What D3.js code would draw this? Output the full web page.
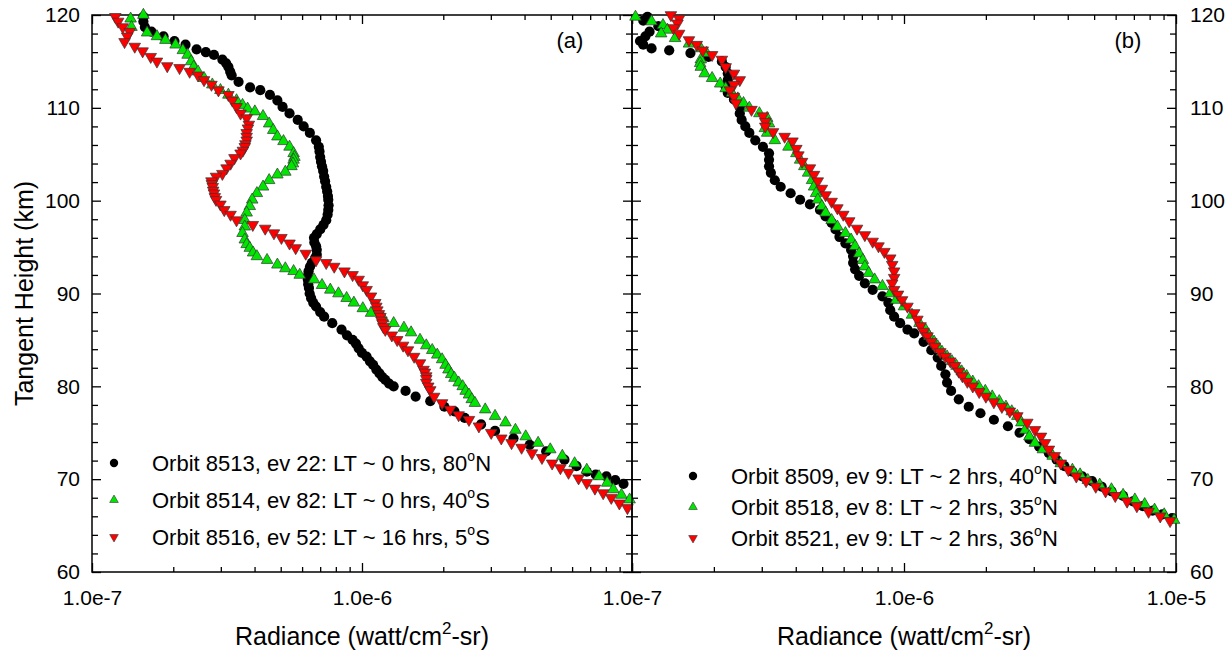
<!DOCTYPE html>
<html>
<head>
<meta charset="utf-8">
<script src="https://cdn.jsdelivr.net/npm/d3@7"></script>
<style>
  body { margin: 0; background: #fff; }
  text { font-family: "Liberation Sans", Arial, sans-serif; }
</style>
</head>
<body>
<svg id="chart" width="1230" height="653"></svg>
<script>
// [tangent height km, radiance in 1e-7 watt/cm2-sr]
const orbit8513 = [[119.8,1.55],[119.3,1.55],[118.7,1.57],[118.2,1.66],[117.7,1.84],[117.2,2.02],[116.8,2.22],[116.3,2.44],[116.0,2.64],[115.7,2.83],[115.2,3.04],[114.8,3.14],[114.4,3.20],[113.9,3.25],[113.5,3.29],[112.8,3.49],[112.2,3.85],[111.9,4.20],[111.4,4.56],[110.8,4.86],[110.1,5.08],[109.4,5.39],[108.7,5.78],[108.0,6.08],[107.3,6.41],[106.5,6.76],[105.8,6.92],[105.3,6.96],[104.7,7.00],[104.2,7.05],[103.7,7.11],[103.2,7.18],[102.6,7.24],[102.1,7.30],[101.5,7.37],[101.0,7.43],[100.5,7.48],[100.1,7.50],[99.5,7.52],[99.0,7.50],[98.5,7.46],[97.9,7.37],[97.4,7.20],[96.9,7.00],[96.4,6.80],[96.0,6.64],[95.5,6.66],[95.1,6.76],[94.7,6.80],[94.2,6.80],[93.8,6.70],[93.3,6.52],[92.9,6.42],[92.4,6.34],[91.9,6.30],[91.5,6.30],[91.0,6.32],[90.6,6.36],[90.0,6.40],[89.5,6.48],[89.0,6.60],[88.6,6.76],[88.0,7.00],[87.5,7.24],[86.8,7.76],[86.1,8.40],[85.5,8.80],[85.0,9.23],[84.6,9.50],[84.1,9.72],[83.6,10.0],[83.2,10.4],[82.7,10.7],[82.3,11.0],[81.8,11.3],[81.4,11.6],[81.0,11.9],[80.7,12.2],[80.3,12.6],[80.0,13.1],[79.5,14.5],[78.9,15.8],[78.4,17.9],[77.8,20.2],[77.3,22.0],[76.6,24.0],[75.9,27.6],[75.2,31.1],[74.4,36.4],[73.7,41.8],[73.0,48.1],[72.1,56.2],[71.4,62.3],[70.8,68.0],[70.5,73.4],[70.3,80.4],[69.9,86.7],[69.5,93.0]];
const orbit8514 = [[120.0,1.55],[119.6,1.39],[118.7,1.40],[118.1,1.60],[117.7,1.74],[117.3,1.87],[116.8,2.04],[116.2,2.17],[115.7,2.26],[115.0,2.33],[114.4,2.38],[113.9,2.47],[113.2,2.60],[112.5,2.79],[111.9,2.99],[111.4,3.20],[110.8,3.43],[110.3,3.61],[109.9,3.77],[109.6,4.01],[109.1,4.30],[108.3,4.53],[107.6,4.69],[106.9,4.86],[106.4,5.12],[105.8,5.39],[105.1,5.58],[104.7,5.62],[104.4,5.58],[104.0,5.55],[103.7,5.48],[103.1,5.20],[102.8,4.86],[102.2,4.53],[101.5,4.30],[100.8,4.08],[100.1,3.92],[99.4,3.84],[98.7,3.74],[97.9,3.68],[97.2,3.68],[96.5,3.61],[95.8,3.68],[95.3,3.74],[94.9,3.84],[94.4,3.95],[94.0,4.08],[93.6,4.45],[93.1,4.86],[92.7,5.20],[92.4,5.58],[92.0,5.88],[91.5,6.64],[90.9,7.11],[90.4,7.63],[90.0,8.18],[89.5,8.77],[89.0,9.33],[88.4,10.07],[87.9,10.8],[87.3,12.0],[86.8,13.1],[86.3,14.3],[85.8,15.2],[85.0,16.4],[84.4,17.3],[83.9,18.2],[83.4,19.0],[82.9,19.8],[82.3,20.4],[81.8,20.9],[81.3,21.4],[80.9,22.0],[80.4,22.8],[80.0,23.6],[79.5,24.2],[79.1,24.9],[78.6,25.5],[78.2,26.2],[77.5,28.6],[76.8,31.1],[76.1,34.0],[75.3,37.0],[74.6,40.4],[73.9,44.9],[73.2,49.8],[72.5,55.2],[71.7,61.3],[71.0,68.0],[70.3,75.5],[69.6,80.9],[68.9,85.3],[68.3,91.4],[67.8,98.0]];
const orbit8516 = [[119.8,1.22],[119.3,1.25],[118.7,1.30],[118.2,1.38],[117.7,1.35],[117.1,1.32],[116.6,1.44],[116.1,1.54],[115.5,1.65],[115.0,1.74],[114.5,1.90],[114.3,2.11],[113.9,2.30],[113.5,2.47],[113.0,2.60],[112.5,2.77],[111.9,2.94],[111.4,3.20],[110.8,3.31],[110.1,3.43],[109.4,3.55],[108.9,3.74],[108.2,3.81],[107.8,3.78],[107.3,3.74],[106.9,3.74],[106.5,3.74],[106.1,3.70],[105.8,3.68],[105.4,3.62],[105.1,3.55],[104.6,3.37],[104.0,3.26],[103.5,3.15],[102.9,3.04],[102.6,2.88],[102.1,2.77],[101.8,2.78],[101.5,2.80],[101.1,2.81],[100.8,2.83],[100.4,2.85],[100.1,2.88],[99.6,2.99],[99.0,3.09],[98.5,3.26],[97.9,3.43],[97.4,3.94],[97.0,4.38],[96.5,4.72],[96.0,5.03],[95.4,5.39],[94.9,5.68],[94.3,6.19],[93.6,6.76],[93.3,7.37],[92.9,7.89],[92.4,8.61],[92.0,9.23],[91.5,9.72],[90.9,10.07],[90.4,10.4],[89.7,10.8],[89.0,11.2],[88.6,11.3],[88.2,11.4],[87.8,11.55],[87.5,11.7],[87.1,11.8],[86.8,11.9],[86.4,12.0],[86.1,12.2],[85.5,12.9],[85.0,13.5],[84.4,14.2],[83.9,14.8],[83.2,15.6],[82.5,16.4],[81.8,16.9],[81.5,17.1],[81.1,17.3],[80.8,17.3],[80.4,17.3],[80.0,17.6],[79.6,17.9],[78.9,18.5],[78.2,19.8],[77.5,21.2],[76.9,22.8],[76.4,24.9],[75.7,27.1],[75.0,30.1],[74.4,32.8],[73.9,35.8],[73.4,39.0],[72.8,42.6],[72.3,46.4],[71.7,50.6],[71.2,54.3],[70.7,58.2],[70.1,63.4],[69.6,68.0],[69.0,72.9],[68.5,78.2],[68.0,83.8],[67.4,89.8],[66.9,96.2]];

const orbit8509 = [[119.8,1.14],[119.4,1.10],[118.8,1.25],[118.2,1.16],[117.7,1.12],[117.2,1.07],[116.8,1.10],[116.4,1.18],[116.2,1.37],[115.9,1.64],[115.5,1.91],[115.0,2.14],[114.4,2.21],[113.7,2.25],[113.0,2.25],[112.3,2.21],[111.6,2.25],[110.9,2.37],[110.1,2.49],[109.4,2.49],[108.7,2.53],[108.0,2.61],[107.3,2.70],[106.5,2.84],[105.8,3.03],[105.1,3.19],[104.4,3.19],[103.7,3.19],[103.0,3.24],[102.2,3.35],[101.5,3.52],[100.8,3.83],[100.1,4.15],[99.6,4.51],[99.0,4.91],[98.3,5.15],[97.6,5.42],[96.9,5.60],[96.1,5.79],[95.4,6.09],[94.7,6.39],[94.0,6.50],[93.3,6.50],[92.6,6.61],[91.9,6.84],[91.1,7.18],[90.4,7.67],[89.7,8.33],[89.0,8.76],[88.2,8.90],[87.5,9.20],[86.8,9.68],[86.1,10.3],[85.7,10.9],[84.8,11.8],[83.9,12.6],[83.1,13.3],[82.2,13.7],[81.3,14.2],[80.4,14.4],[79.5,14.9],[78.6,15.9],[77.8,17.3],[77.1,19.1],[76.4,21.4],[75.7,24.1],[75.0,26.6],[74.3,28.9],[73.5,31.4],[72.8,34.1],[72.1,36.4],[71.4,38.9],[70.8,41.6],[70.3,45.2],[69.8,49.1],[69.2,53.3],[68.7,57.9],[68.2,63.9],[67.6,69.5],[67.1,75.5],[66.6,82.0],[66.2,89.1],[65.8,96.8]];
const orbit8518 = [[119.8,1.03],[119.3,1.18],[118.9,1.30],[118.4,1.35],[118.0,1.28],[117.5,1.44],[116.9,1.62],[116.4,1.79],[115.9,1.88],[115.2,1.79],[114.8,1.78],[114.4,1.79],[113.7,1.85],[113.2,1.97],[112.6,2.11],[112.1,2.21],[111.6,2.33],[111.0,2.45],[110.5,2.57],[110.0,2.70],[109.4,2.94],[108.9,3.14],[108.3,3.19],[107.8,3.08],[107.3,3.14],[106.5,3.35],[105.8,3.76],[105.1,4.02],[104.4,4.15],[103.7,4.30],[103.0,4.44],[102.2,4.59],[101.5,4.67],[100.8,4.75],[100.1,4.82],[99.4,4.99],[98.7,5.15],[97.9,5.42],[97.2,5.69],[96.5,6.09],[95.8,6.39],[95.1,6.61],[94.3,6.84],[93.6,7.06],[92.9,7.18],[92.2,7.42],[91.5,7.80],[90.8,8.33],[90.0,8.90],[89.3,9.36],[88.6,10.0],[87.7,10.7],[86.8,11.4],[86.1,12.0],[85.4,12.4],[84.8,12.9],[84.3,13.3],[83.7,13.8],[83.2,14.4],[82.7,15.0],[82.2,15.6],[81.6,16.3],[81.1,17.0],[80.5,17.9],[80.0,18.8],[79.5,19.9],[78.9,21.1],[78.4,22.4],[77.8,23.7],[77.3,24.9],[76.8,26.1],[76.1,27.0],[75.3,27.9],[74.6,28.9],[73.9,30.3],[73.2,32.4],[72.5,35.2],[71.7,37.7],[71.0,41.6],[70.5,44.4],[69.9,47.4],[69.4,52.4],[68.9,57.9],[68.3,63.9],[67.8,70.6],[67.3,76.7],[66.7,83.4],[66.2,90.5],[65.6,98.4]];
const orbit8521 = [[120.0,1.39],[119.6,1.49],[119.1,1.47],[118.6,1.42],[118.0,1.49],[117.3,1.62],[116.8,1.73],[116.2,1.82],[115.7,1.97],[115.2,2.14],[114.4,2.21],[113.7,2.37],[113.0,2.49],[112.5,2.37],[111.9,2.29],[111.2,2.37],[110.5,2.41],[109.8,2.75],[109.1,3.03],[108.5,3.09],[108.0,3.09],[107.4,3.30],[106.9,3.64],[106.4,3.89],[105.6,4.02],[104.9,4.09],[104.2,4.22],[103.5,4.51],[102.8,4.67],[102.1,4.82],[101.3,4.99],[100.6,5.15],[99.9,5.42],[99.2,5.69],[98.5,5.98],[97.8,6.29],[97.0,6.72],[96.3,7.18],[95.6,7.67],[95.1,8.06],[94.5,8.47],[93.8,8.90],[93.1,9.05],[92.4,9.20],[91.7,9.20],[91.1,9.05],[90.4,9.20],[89.9,9.51],[89.3,9.84],[88.6,10.3],[87.9,10.9],[87.2,11.2],[86.5,11.5],[85.9,11.8],[85.4,12.2],[84.8,12.6],[84.3,13.0],[83.7,13.6],[83.2,14.2],[82.7,14.8],[82.2,15.4],[81.6,15.9],[81.1,16.4],[80.5,17.1],[80.0,17.9],[79.4,18.9],[78.9,20.0],[78.3,21.4],[77.8,22.9],[77.3,24.5],[76.8,26.1],[76.1,28.4],[75.3,30.3],[74.6,31.9],[73.9,33.0],[73.2,34.1],[72.5,35.8],[71.7,37.7],[71.0,40.2],[70.3,43.0],[69.8,46.7],[69.2,50.7],[68.7,55.1],[68.2,59.8],[67.6,66.1],[67.1,71.8],[66.5,79.3],[66.0,87.5],[65.5,95.1]];

const heightTicks = [60, 70, 80, 90, 100, 110, 120];
const radianceDecades = [1e-7, 1e-6, 1e-5];
const legendTextA = ["Orbit 8513, ev 22: LT ~ 0 hrs, 80", "Orbit 8514, ev 82: LT ~ 0 hrs, 40", "Orbit 8516, ev 52: LT ~ 16 hrs, 5"];
const legendHemiA = ["N", "S", "S"];
const legendTextB = ["Orbit 8509, ev 9: LT ~ 2 hrs, 40", "Orbit 8518, ev 8: LT ~ 2 hrs, 35", "Orbit 8521, ev 9: LT ~ 2 hrs, 36"];
const legendHemiB = ["N", "N", "N"];

const unit = 1e-7;
const plotTop = 15, plotBottom = 572;
const svg = d3.select('#chart');
const y = d3.scaleLinear().domain([60, 120]).range([plotBottom, plotTop]);
const yMinor = d3.range(62, 120, 2).filter(v => v % 10 !== 0);

const colors = ['#000000', '#00e600', '#ff0000'];
const markerTypes = [d3.symbolCircle, d3.symbolTriangle, d3.symbolTriangle];

const panels = [
  { x: d3.scaleLog().domain([1e-7, 1e-5]).range([92, 632]), series: [orbit8513, orbit8514, orbit8516],
    labels: legendTextA, hemi: legendHemiA, tag: '(a)', tagX: 570, legX: 114, textX: 152, legY: [463, 500, 537],
    xLabels: [1e-7, 1e-6] },
  { x: d3.scaleLog().domain([1e-7, 1e-5]).range([632, 1176]), series: [orbit8509, orbit8518, orbit8521],
    labels: legendTextB, hemi: legendHemiB, tag: '(b)', tagX: 1128, legX: 693, textX: 731, legY: [476, 507, 538],
    xLabels: [1e-7, 1e-6, 1e-5] }
];

function clean(g) {
  g.select('.domain').remove();
  g.selectAll('.tick line').attr('stroke', '#000').attr('stroke-width', 1.3);
  g.selectAll('.tick text').attr('font-size', 21).attr('font-family', '"Liberation Sans", Arial, sans-serif').attr('fill', '#000');
}

panels.forEach((p, pi) => {
  const [x0, x1] = p.x.range();
  const xMinor = p.x.ticks().filter(v => Math.abs(Math.log10(v) - Math.round(Math.log10(v))) > 1e-6);

  // bottom axis
  svg.append('g').attr('transform', `translate(0,${plotBottom})`)
    .call(d3.axisBottom(p.x).tickValues(radianceDecades).tickSize(-9).tickPadding(18)
      .tickFormat(v => p.xLabels.some(l => Math.abs(l - v) < v * 1e-6) ? d3.format('.1e')(v) : ''))
    .call(clean);
  svg.append('g').attr('transform', `translate(0,${plotBottom})`)
    .call(d3.axisBottom(p.x).tickValues(xMinor).tickSize(-5).tickFormat(''))
    .call(clean);
  // top axis
  svg.append('g').attr('transform', `translate(0,${plotTop})`)
    .call(d3.axisTop(p.x).tickValues(radianceDecades).tickSize(-9).tickFormat(''))
    .call(clean);
  svg.append('g').attr('transform', `translate(0,${plotTop})`)
    .call(d3.axisTop(p.x).tickValues(xMinor).tickSize(-5).tickFormat(''))
    .call(clean);
  // left side
  svg.append('g').attr('transform', `translate(${x0},0)`)
    .call(d3.axisLeft(y).tickValues(heightTicks).tickSize(-9).tickPadding(12)
      .tickFormat(pi === 0 ? d3.format('d') : ''))
    .call(clean);
  svg.append('g').attr('transform', `translate(${x0},0)`)
    .call(d3.axisLeft(y).tickValues(yMinor).tickSize(-6).tickFormat(''))
    .call(clean);
  // right side
  svg.append('g').attr('transform', `translate(${x1},0)`)
    .call(d3.axisRight(y).tickValues(heightTicks).tickSize(-9).tickPadding(14)
      .tickFormat(pi === 1 ? d3.format('d') : ''))
    .call(clean);
  svg.append('g').attr('transform', `translate(${x1},0)`)
    .call(d3.axisRight(y).tickValues(yMinor).tickSize(-6).tickFormat(''))
    .call(clean);

  // frame
  svg.append('rect').attr('x', x0).attr('y', plotTop).attr('width', x1 - x0).attr('height', plotBottom - plotTop)
    .attr('fill', 'none').attr('stroke', '#000').attr('stroke-width', 1.5);

  // data markers
  p.series.forEach((s, k) => {
    const sym = d3.symbol().type(markerTypes[k]).size(k === 0 ? 82 : 58);
    svg.append('g').selectAll('path').data(s).join('path')
      .attr('transform', d => `translate(${p.x(d[1] * unit)},${y(d[0])})` + (k === 2 ? ' rotate(180)' : ''))
      .attr('d', sym)
      .attr('fill', colors[k])
      .attr('stroke', k === 0 ? 'none' : '#333')
      .attr('stroke-width', 0.7);
  });

  // legend
  p.labels.forEach((label, k) => {
    const ly = p.legY[k];
    const sym = d3.symbol().type(markerTypes[k]).size(k === 0 ? 55 : 32);
    svg.append('path')
      .attr('transform', `translate(${p.legX},${ly})` + (k === 2 ? ' rotate(180)' : ''))
      .attr('d', sym)
      .attr('fill', colors[k])
      .attr('stroke', k === 0 ? 'none' : '#333')
      .attr('stroke-width', 0.6);
    const t = svg.append('text').attr('x', p.textX).attr('y', ly + 8).attr('font-size', 22).attr('fill', '#000');
    t.append('tspan').text(label);
    t.append('tspan').attr('dy', -10).attr('font-size', 14).text('o');
    t.append('tspan').attr('dy', 10).text(p.hemi[k]);
  });

  // panel tag
  svg.append('text').attr('x', p.tagX).attr('y', 48).attr('text-anchor', 'middle')
    .attr('font-size', 22).text(p.tag);

  // x title
  const xt = svg.append('text').attr('x', (x0 + x1) / 2).attr('y', 645).attr('text-anchor', 'middle')
    .attr('font-size', 25);
  xt.append('tspan').text('Radiance (watt/cm');
  xt.append('tspan').attr('dy', -11).attr('font-size', 17).text('2');
  xt.append('tspan').attr('dy', 11).text('-sr)');
});

svg.append('text')
  .attr('transform', `translate(33,${(plotTop + plotBottom) / 2}) rotate(-90)`)
  .attr('text-anchor', 'middle').attr('font-size', 25)
  .text('Tangent Height (km)');
</script>
</body>
</html>
